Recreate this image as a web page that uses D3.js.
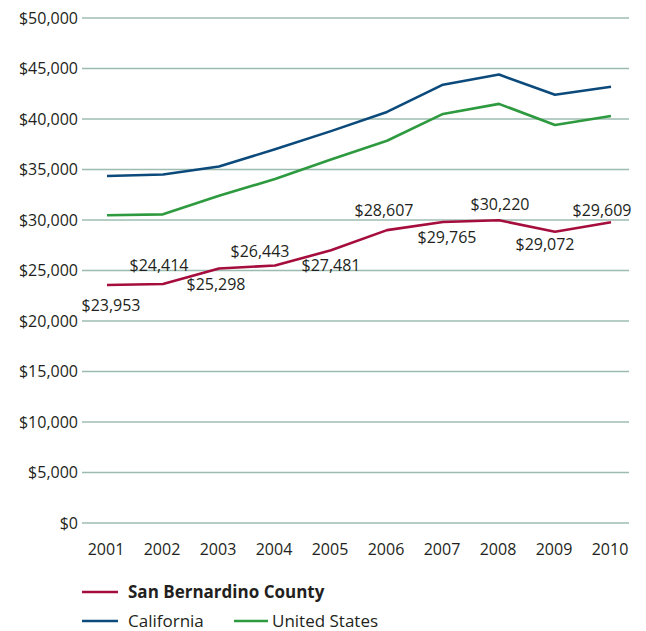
<!DOCTYPE html>
<html>
<head>
<meta charset="utf-8">
<script src="https://cdn.jsdelivr.net/npm/d3@7"></script>
<style>
    body { margin: 0; background: #fff; }
    #chart text { font-family: 'Open Sans', sans-serif; fill: #231f20; }
</style>
</head>
<body>
<div id="chart"></div>
<script>
// Data
const years = ["2001", "2002", "2003", "2004", "2005", "2006", "2007", "2008", "2009", "2010"];
const sanBernardino = [23560, 23660, 25200, 25500, 27000, 29000, 29800, 29970, 28840, 29770];
const california = [34360, 34500, 35300, 37000, 38800, 40700, 43400, 44400, 42400, 43200];
const unitedStates = [30470, 30560, 32400, 34060, 36000, 37850, 40500, 41500, 39400, 40300];
const sbLabels = ["$23,953", "$24,414", "$25,298", "$26,443", "$27,481", "$28,607", "$29,765", "$30,220", "$29,072", "$29,609"];
const yTicks = [0, 5000, 10000, 15000, 20000, 25000, 30000, 35000, 40000, 45000, 50000];
const seriesNames = ["San Bernardino County", "California", "United States"];

class LineChart {
    constructor(element) {
        this.element = element;
        this.initVis();
    }

    initVis() {
        const vis = this;

        vis.width = 646;
        vis.height = 631;

        vis.svg = d3.select("#" + vis.element).append("svg")
            .attr("width", vis.width)
            .attr("height", vis.height);

        vis.colors = ["#a50d3c", "#0b4a7b", "#2e9a3f"];

        vis.x = d3.scalePoint()
            .domain(years)
            .range([107, 611]);

        vis.y = d3.scaleLinear()
            .domain([0, 50000])
            .range([523, 18]);

        // gridlines
        vis.svg.append("g")
            .selectAll("line")
            .data(yTicks)
            .enter().append("line")
            .attr("x1", 82)
            .attr("x2", 629)
            .attr("y1", d => vis.y(d))
            .attr("y2", d => vis.y(d))
            .style("stroke", "#9dbcb1")
            .style("stroke-width", 1.3);

        // y labels
        vis.svg.append("g")
            .selectAll("text")
            .data(yTicks)
            .enter().append("text")
            .attr("x", 78)
            .attr("y", d => vis.y(d))
            .attr("dy", "0.36em")
            .style("text-anchor", "end")
            .style("font-size", "16px")
            .text(d => "$" + d3.format(",")(d));

        // x labels
        vis.svg.append("g")
            .selectAll("text")
            .data(years)
            .enter().append("text")
            .attr("x", d => vis.x(d) - 1)
            .attr("y", 555)
            .style("text-anchor", "middle")
            .style("font-size", "16px")
            .text(d => d);

        const line = d3.line()
            .x((d, i) => vis.x(years[i]))
            .y(d => vis.y(d));

        // lines, county drawn last so it sits on top
        [california, unitedStates, sanBernardino].forEach(values => {
            const idx = [sanBernardino, california, unitedStates].indexOf(values);
            vis.svg.append("path")
                .datum(values)
                .attr("d", line)
                .style("fill", "none")
                .style("stroke", vis.colors[idx])
                .style("stroke-width", 2.6)
                .style("stroke-linejoin", "round");
        });

        // value labels for the county, nudged above/below the line
        const labelOffsets = [[4, 26], [-4, -13], [-3, 22], [-15, -8], [0, 21],
            [-3, -14], [4, 21], [1, -10], [-10, 18], [-9, -6]];

        vis.svg.append("g")
            .selectAll("text")
            .data(sanBernardino)
            .enter().append("text")
            .attr("x", (d, i) => vis.x(years[i]) + labelOffsets[i][0])
            .attr("y", (d, i) => vis.y(d) + labelOffsets[i][1])
            .style("text-anchor", "middle")
            .style("font-size", "16px")
            .text((d, i) => sbLabels[i]);

        // legend
        const legendPos = [[82, 592], [82, 621], [234, 621]];
        const legend = vis.svg.append("g")
            .selectAll("g")
            .data(seriesNames)
            .enter().append("g")
            .attr("transform", (d, i) => `translate(${legendPos[i][0]},${legendPos[i][1]})`);

        legend.append("line")
            .attr("x1", 0)
            .attr("x2", (d, i) => i === 2 ? 34 : 36)
            .style("stroke", (d, i) => vis.colors[i])
            .style("stroke-width", 2.6);

        legend.append("text")
            .attr("x", (d, i) => i === 2 ? 38 : 46)
            .attr("y", 6)
            .style("font-size", "17px")
            .style("font-weight", (d, i) => i === 0 ? "bold" : "normal")
            .text(d => d);
    }
}

new LineChart("chart");
</script>
</body>
</html>
